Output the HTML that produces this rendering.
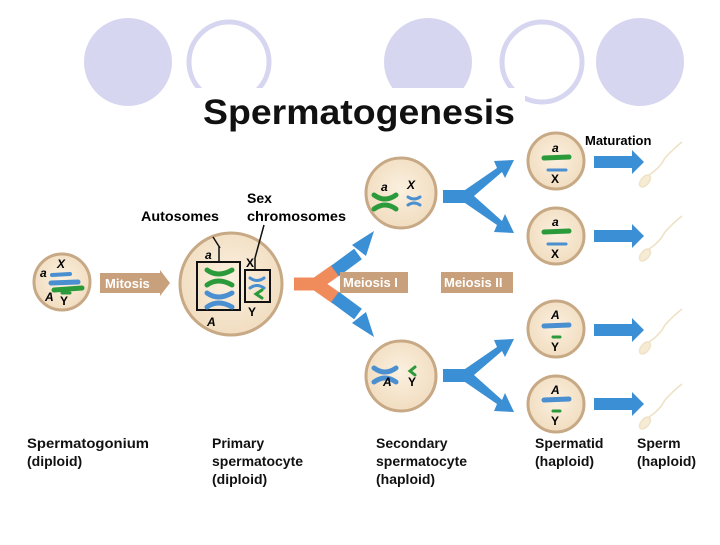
<!DOCTYPE html>
<html><head><style>
body{margin:0;background:#fff}
svg text{font-family:"Liberation Sans",sans-serif;font-weight:bold}
</style></head><body>
<svg width="720" height="540" viewBox="0 0 720 540" xmlns="http://www.w3.org/2000/svg">
<defs>
<radialGradient id="cg" cx="50%" cy="45%" r="55%"><stop offset="0" stop-color="#fbf0df"/><stop offset="1" stop-color="#f1ddc0"/></radialGradient>
</defs>
<!-- decorative circles -->
<circle cx="128" cy="62" r="44" fill="#d6d6f0"/>
<circle cx="229" cy="62" r="40" fill="#fff" stroke="#d6d6f0" stroke-width="5"/>
<circle cx="428" cy="62" r="44" fill="#d6d6f0"/>
<circle cx="542" cy="62" r="40" fill="#fff" stroke="#d6d6f0" stroke-width="5"/>
<circle cx="640" cy="62" r="44" fill="#d6d6f0"/>
<rect x="195" y="88" width="330" height="44" fill="#fff"/>
<text x="203" y="124" font-size="35" fill="#111" textLength="312" lengthAdjust="spacingAndGlyphs">Spermatogenesis</text>

<!-- spermatogonium -->
<circle cx="62" cy="282" r="28" fill="url(#cg)" stroke="#c8a985" stroke-width="3"/>
<g stroke-linecap="round" fill="none">
<path d="M52 275 L70 274" stroke="#4a8fd0" stroke-width="4"/>
<path d="M51 283 L78 282" stroke="#4a8fd0" stroke-width="5"/>
<path d="M54 290 L82 288" stroke="#2a9a3a" stroke-width="5"/>
<path d="M62 293 L70 293" stroke="#2a9a3a" stroke-width="3"/>
</g>
<text x="57" y="268" font-size="12" font-style="italic">X</text>
<text x="40" y="277" font-size="12" font-style="italic">a</text>
<text x="45" y="301" font-size="12" font-style="italic">A</text>
<text x="60" y="305" font-size="12">Y</text>

<!-- mitosis arrow -->
<path d="M100 273 L160 273 L160 270 L170 283 L160 296 L160 293 L100 293 Z" fill="#c9a07c"/>
<text x="105" y="288" font-size="13" fill="#fff">Mitosis</text>

<!-- primary -->
<circle cx="231" cy="284" r="51" fill="url(#cg)" stroke="#c8a985" stroke-width="3"/>
<rect x="197" y="262" width="43" height="48" fill="none" stroke="#111" stroke-width="2"/>
<rect x="245" y="270" width="25" height="32" fill="none" stroke="#111" stroke-width="2"/>
<path d="M220 248 L213 237 M255 270 L255 258 L264 225 M219 262 L219 247" stroke="#111" stroke-width="1.5" fill="none"/>
<g stroke-linecap="round" fill="none" stroke-width="5">
<path d="M207 270 Q218 278 232 270 M207 285 Q218 277 232 285" stroke="#2a9a3a"/>
<path d="M207 293 Q218 301 232 293 M207 307 Q218 299 232 307" stroke="#4a8fd0"/>
<path d="M250 278 Q257 283 264 278 M250 288 Q257 283 264 288" stroke="#4a8fd0" stroke-width="3"/>
<path d="M262 290 L256 294 L262 298" stroke="#2a9a3a" stroke-width="3"/>
</g>
<text x="205" y="259" font-size="12" font-style="italic">a</text>
<text x="246" y="267" font-size="12">X</text>
<text x="248" y="316" font-size="12">Y</text>
<text x="207" y="326" font-size="12" font-style="italic">A</text>
<text x="141" y="221" font-size="14" textLength="78" lengthAdjust="spacingAndGlyphs">Autosomes</text>
<text x="247" y="203" font-size="14">Sex</text>
<text x="247" y="221" font-size="14" textLength="99" lengthAdjust="spacingAndGlyphs">chromosomes</text>

<!-- meiosis I Y -->
<g fill="none" stroke-width="13">
<path d="M294 284 L318 284" stroke="#f08c5c"/>
<path d="M316 284 L336 270" stroke="#f08c5c"/>
<path d="M316 284 L336 298" stroke="#f08c5c"/>
<path d="M335 271 L358 254" stroke="#3b8fd4"/>
<path d="M335 297 L358 314" stroke="#3b8fd4"/>
</g>
<path d="M352 245 L374 231 L366 256 Z" fill="#3b8fd4"/>
<path d="M352 323 L374 337 L366 312 Z" fill="#3b8fd4"/>
<rect x="340" y="272" width="68" height="21" fill="#c9a07c"/>
<text x="343" y="287" font-size="13" fill="#fff">Meiosis I</text>
<rect x="441" y="272" width="72" height="21" fill="#c9a07c"/>
<text x="444" y="287" font-size="13" fill="#fff">Meiosis II</text>

<!-- secondary -->
<circle cx="401" cy="193" r="35" fill="url(#cg)" stroke="#c8a985" stroke-width="3"/>
<g stroke-linecap="round" fill="none" stroke-width="5">
<path d="M374 195 Q385 203 396 195 M374 209 Q385 201 396 209" stroke="#2a9a3a"/>
<path d="M408 197 Q414 201 420 197 M408 205 Q414 201 420 205" stroke="#4a8fd0" stroke-width="3"/>
</g>
<text x="381" y="191" font-size="12" font-style="italic">a</text>
<text x="407" y="189" font-size="12" font-style="italic">X</text>
<circle cx="401" cy="376" r="35" fill="url(#cg)" stroke="#c8a985" stroke-width="3"/>
<g stroke-linecap="round" fill="none" stroke-width="5">
<path d="M374 368 Q385 376 396 368 M374 382 Q385 374 396 382" stroke="#4a8fd0"/>
<path d="M415 367 L410 371 L415 375" stroke="#2a9a3a" stroke-width="3"/>
</g>
<text x="383" y="386" font-size="12" font-style="italic">A</text>
<text x="408" y="386" font-size="12">Y</text>

<!-- meiosis II Y's -->
<g fill="#3b8fd4">
<path d="M443 190 L465 190 L497 168 L494 161 L514 160 L505 178 L502 172 L474 196 L502 221 L505 214 L514 233 L494 232 L497 225 L465 203 L443 203 Z"/>
<path d="M443 369 L465 369 L497 347 L494 340 L514 339 L505 357 L502 351 L474 375 L502 400 L505 393 L514 412 L494 411 L497 404 L465 382 L443 382 Z"/>
</g>

<!-- spermatids -->
<g>
<circle cx="556" cy="161" r="28" fill="url(#cg)" stroke="#c8a985" stroke-width="3"/>
<circle cx="556" cy="236" r="28" fill="url(#cg)" stroke="#c8a985" stroke-width="3"/>
<circle cx="556" cy="329" r="28" fill="url(#cg)" stroke="#c8a985" stroke-width="3"/>
<circle cx="556" cy="404" r="28" fill="url(#cg)" stroke="#c8a985" stroke-width="3"/>
</g>
<g stroke-linecap="round" stroke-width="5" fill="none">
<path d="M544 158 L569 157" stroke="#2a9a3a"/><path d="M548 170 L566 170" stroke="#4a8fd0" stroke-width="3"/>
<path d="M544 232 L569 231" stroke="#2a9a3a"/><path d="M548 244 L566 244" stroke="#4a8fd0" stroke-width="3"/>
<path d="M544 326 L569 325" stroke="#4a8fd0"/><path d="M553 337 L560 337" stroke="#2a9a3a" stroke-width="3"/>
<path d="M544 400 L569 399" stroke="#4a8fd0"/><path d="M553 411 L560 411" stroke="#2a9a3a" stroke-width="3"/>
</g>
<g font-size="12">
<text x="552" y="152" font-style="italic">a</text><text x="551" y="183">X</text>
<text x="552" y="226" font-style="italic">a</text><text x="551" y="258">X</text>
<text x="551" y="319" font-style="italic">A</text><text x="551" y="351">Y</text>
<text x="551" y="394" font-style="italic">A</text><text x="551" y="425">Y</text>
</g>
<text x="585" y="145" font-size="13">Maturation</text>

<!-- maturation arrows and sperm -->
<g fill="#3b8fd4">
<path d="M594 156 L632 156 L632 150 L644 162 L632 174 L632 168 L594 168 Z"/>
<path d="M594 230 L632 230 L632 224 L644 236 L632 248 L632 242 L594 242 Z"/>
<path d="M594 324 L632 324 L632 318 L644 330 L632 342 L632 336 L594 336 Z"/>
<path d="M594 398 L632 398 L632 392 L644 404 L632 416 L632 410 L594 410 Z"/>
</g>
<g stroke="#efe2c4" fill="#f6ecd6" stroke-width="1.5">
<g><ellipse cx="645" cy="181" rx="4" ry="7" transform="rotate(40 645 181)"/><path d="M649 175 Q660 168 665 158 Q672 150 682 142" fill="none"/></g>
<g transform="translate(0,74)"><ellipse cx="645" cy="181" rx="4" ry="7" transform="rotate(40 645 181)"/><path d="M649 175 Q660 168 665 158 Q672 150 682 142" fill="none"/></g>
<g transform="translate(0,167)"><ellipse cx="645" cy="181" rx="4" ry="7" transform="rotate(40 645 181)"/><path d="M649 175 Q660 168 665 158 Q672 150 682 142" fill="none"/></g>
<g transform="translate(0,242)"><ellipse cx="645" cy="181" rx="4" ry="7" transform="rotate(40 645 181)"/><path d="M649 175 Q660 168 665 158 Q672 150 682 142" fill="none"/></g>
</g>

<!-- bottom labels -->
<g font-size="14" fill="#111">
<text x="27" y="448" textLength="122" lengthAdjust="spacingAndGlyphs">Spermatogonium</text><text x="27" y="466">(diploid)</text>
<text x="212" y="448">Primary</text><text x="212" y="466">spermatocyte</text><text x="212" y="484">(diploid)</text>
<text x="376" y="448">Secondary</text><text x="376" y="466">spermatocyte</text><text x="376" y="484">(haploid)</text>
<text x="535" y="448">Spermatid</text><text x="535" y="466">(haploid)</text>
<text x="637" y="448">Sperm</text><text x="637" y="466">(haploid)</text>
</g>
</svg>
</body></html>
